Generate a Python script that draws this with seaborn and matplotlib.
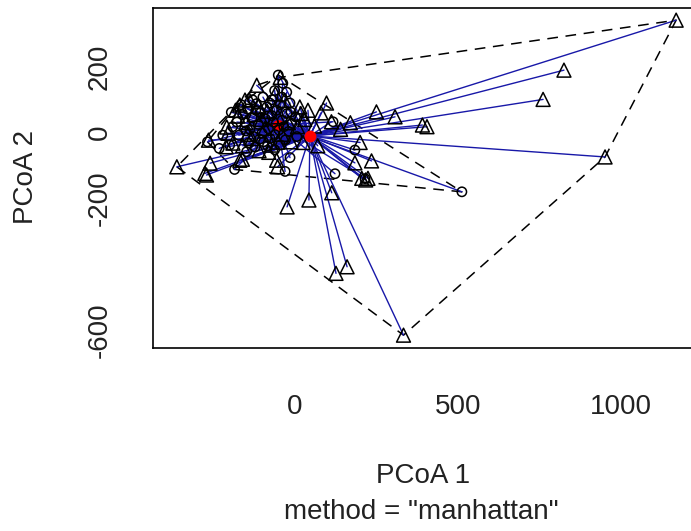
import numpy as np
import pandas as pd
import matplotlib
matplotlib.use("Agg")
import matplotlib.pyplot as plt
import seaborn as sns

# ---- data (PCoA scores) ----
circ_x = [-51, 512, 123, 184, 117, -15, -221, -191, -37, -25, -40, -77, -15, 215, -185, -268, -195, -30,
          -160, -152, -145, -138, -131, -126, -118, -112, -106, -101, -96, -91, -86, -81, -76, -71, -66,
          -61, -56, -49, -44, -39, -34, -29, -24, -19, -9, 2, 6, -142, -172, -178, -200, -232, -148, -122,
          -62, -98, -62, -12, -130, -165, -84, -108, -150, -70, -45, -120]
circ_y = [175, -180, -125, -53, 33, -76, -8, 18, 150, 123, 108, 90, 90, -140, -112, -28, 62, -118,
          55, 30, 72, 10, 45, -12, 88, 25, 60, -2, -28, 42, 78, 12, -18, 52, 32,
          -6, 68, 8, -38, 38, 18, -22, 58, 4, 28, 48, -12, -32, -8, 32, -38, -48, -58, -44,
          -52, 108, 128, 62, 100, 85, -40, -20, 5, 100, 85, 68]

tri_x = [1169, 825, 761, 391, 405, 307, 250, 951, 333, 126, 160, -24, 43, 113, 217, 224, 205, 235, 184,
         -362, -276, -260, -161, -53, -56, -211, -265, -117, 97, 112, -182, -169, -190, -205, -209, -52,
         -45, -271, -150, -132, -112, -92, -72, -52, -32, -12, 8, 18, -140, -102, -60, -160, -125, -85,
         -40, -20, 30, 60, -80, -110, -175, -145, 25, 70, 80, 140, 170, 200, -153, -169, 15, 40]
tri_y = [342, 190, 101, 23, 18, 48, 63, -74, -616, -428, -408, -226, -205, -183, -144, -139, -139, -86, -92,
         -104, -124, -93, -81, -104, -84, -43, -23, 144, 90, 33, 68, -84, -32, -2, 17, -29,
         168, -129, 30, -18, 80, 12, -38, 48, 98, -28, 18, 58, 100, 40, 118, -40, 55, 65,
         -5, 30, 40, 20, -60, -55, 50, -5, -30, -40, 60, 10, 30, -30, 99, 84, 78, 68]

centroid_x = [-52, 46]
centroid_y = [23, -10]

x_ticks = [0, 500, 1000]
y_ticks = [-600, -400, -200, 0, 200]
y_ticklabels = ["-600", "", "-200", "0", "200"]

df = pd.DataFrame({
    "PCoA1": circ_x + tri_x,
    "PCoA2": circ_y + tri_y,
    "group": ["1"] * len(circ_x) + ["2"] * len(tri_x),
})


def hull(pts):
    pts = sorted(set(pts))

    def cross(o, a, b):
        return (a[0] - o[0]) * (b[1] - o[1]) - (a[1] - o[1]) * (b[0] - o[0])

    lower, upper = [], []
    for p in pts:
        while len(lower) >= 2 and cross(lower[-2], lower[-1], p) <= 0:
            lower.pop()
        lower.append(p)
    for p in reversed(pts):
        while len(upper) >= 2 and cross(upper[-2], upper[-1], p) <= 0:
            upper.pop()
        upper.append(p)
    h = lower[:-1] + upper[:-1]
    return h + [h[0]]


sns.set_theme(style="white")
plt.rcParams["font.family"] = ["Liberation Sans", "DejaVu Sans"]

fig = plt.figure(figsize=(6.91, 5.31), dpi=100)
ax_w = 700 - 152.7
ax = fig.add_axes([152.7 / 691, 1 - 348 / 531, ax_w / 691, 340 / 531])

# hulls
for g, (gx, gy) in {"1": (circ_x, circ_y), "2": (tri_x, tri_y)}.items():
    h = hull(list(zip(gx, gy)))
    hx, hy = zip(*h)
    ax.plot(hx, hy, color="black", lw=1.1, ls=(0, (7, 5)), zorder=2)

# segments to centroids
seg_col = "#1818a8"
for gi, (gx, gy) in enumerate([(circ_x, circ_y), (tri_x, tri_y)]):
    for x, y in zip(gx, gy):
        ax.plot([x, centroid_x[gi]], [y, centroid_y[gi]], color=seg_col, lw=1.0, zorder=3)

# circle centroid under points
ax.plot(centroid_x[0], centroid_y[0], "o", color="red", ms=8, mec="none", zorder=3.5)

sns.scatterplot(data=df[df.group == "1"], x="PCoA1", y="PCoA2", marker="o", s=45,
                facecolor="none", edgecolor="black", linewidth=1.1, ax=ax, zorder=4, legend=False)
sns.scatterplot(data=df[df.group == "2"], x="PCoA1", y="PCoA2", marker="^", s=100,
                facecolor="none", edgecolor="black", linewidth=1.1, ax=ax, zorder=4, legend=False)

ax.plot(centroid_x[1], centroid_y[1], "o", color="red", ms=8.5, mec="none", zorder=5)

ax.set_xlim(-436, (700 - 295) * 3.067)
ax.set_ylim(-655, 379)
ax.set_xticks(x_ticks)
ax.set_xticklabels([str(v) for v in x_ticks])
ax.set_yticks(y_ticks)
ax.set_yticklabels(y_ticklabels, rotation=90, va="center")

for s in ax.spines.values():
    s.set_color("black")
    s.set_linewidth(1.2)
ax.tick_params(axis="both", which="both", direction="out", length=13, width=1.0,
               color="black", labelsize=20, labelcolor="#222222")
ax.tick_params(axis="x", pad=20)
ax.tick_params(axis="y", pad=16)

ax.set_xlabel("PCoA 1", fontsize=20, color="#222222")
ax.xaxis.label.set_va("center")
ax.xaxis.set_label_coords((423 - 152.7) / ax_w, -(476 - 348) / 340)
ax.set_ylabel("PCoA 2", fontsize=20, color="#222222")
ax.yaxis.label.set_va("center")
ax.yaxis.set_label_coords((26 - 152.7) / ax_w, (348 - 177) / 340)

fig.text(421 / 691, 1 - 512 / 531, 'method = "manhattan"', ha="center", va="center",
         fontsize=20, color="#222222")

fig.savefig("out.png", dpi=100, facecolor="white")
